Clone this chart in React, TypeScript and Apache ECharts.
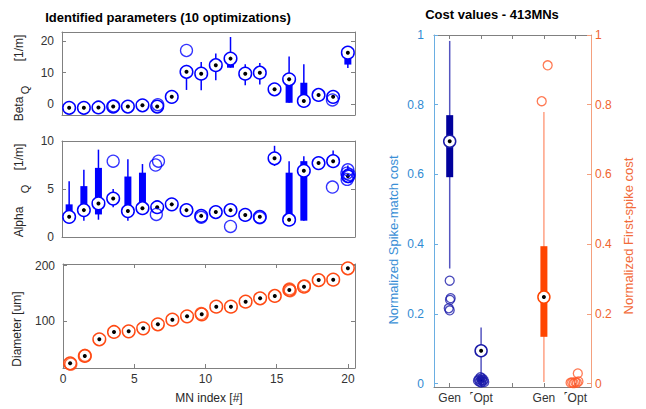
import React, { useEffect, useRef } from 'react';
import * as echarts from 'echarts';

const FONT = 'Liberation Sans, Arial, Helvetica, sans-serif';

// MN positions along x (20 motoneurons)
const positions = [0.5, 1.53, 2.55, 3.58, 4.61, 5.63, 6.66, 7.68, 8.71, 9.74, 10.76, 11.79, 12.82, 13.84, 14.87, 15.89, 16.92, 17.95, 18.97, 20.0];

// Beta_Q [1/m]
const betaMedian = [-1.2, -1.2, -1.1, -0.8, -0.8, -0.4, -0.8, 2.3, 10.3, 9.7, 12.4, 14.5, 9.7, 10.0, 4.7, 7.9, 1.0, 2.9, 2.3, 16.4];
const betaQ1 = [null, null, null, null, null, null, null, null, null, 8.2, null, 11.6, null, null, null, 0.4, 0.4, null, null, 12.6];
const betaQ3 = [null, null, null, null, null, null, null, null, null, 9.7, null, 13.5, null, null, null, 6.6, 6.8, null, null, 16.4];
const betaWLo = [null, null, null, null, null, null, null, null, 4.5, 4.4, 7.6, 11.6, 6.0, 6.2, null, 0.4, 0.4, null, null, 11.5];
const betaWHi = [null, null, null, null, null, null, null, null, 12.5, 13.4, 16.1, 21.4, 12.7, 13.1, null, 15.2, 12.7, null, null, 18.2];
const betaOutliers = [[3.62, -0.6], [6.7, -0.2], [8.71, 17.1], [18.92, 1.3]];

// Alpha_Q [1/m]
const alphaMedian = [2.1, 2.8, 3.5, 4.0, 2.7, 3.0, 3.1, 3.4, 2.8, 2.2, 2.6, 2.8, 2.3, 2.1, 8.2, 1.8, 6.9, 7.7, 7.9, 6.35];
const alphaQ1 = [2.0, 2.8, 2.35, null, 2.7, 3.0, null, null, null, null, null, null, null, null, null, 1.76, 1.7, null, null, null];
const alphaQ3 = [3.4, 5.3, 7.2, null, 6.3, 6.7, null, null, null, null, null, null, null, null, null, 6.7, 7.9, null, null, null];
const alphaWLo = [2.0, 1.7, 1.8, 3.1, 1.7, 3.0, null, null, null, null, null, null, null, null, 7.4, 1.76, 1.7, 7.7, 7.9, 6.3];
const alphaWHi = [5.8, 7.0, 9.1, 5.0, 8.1, 7.6, null, null, null, null, null, null, null, null, 9.5, 7.9, 8.4, 8.3, 9.0, 7.45];
const alphaOutliers = [[3.58, 7.9], [6.55, 7.5], [6.75, 7.9], [6.6, 2.35], [9.74, 2.05], [11.79, 1.1], [13.84, 2.0], [18.92, 5.2], [20.0, 7.0], [19.93, 6.65], [20.06, 6.3], [19.95, 6.0], [20.1, 6.5]];

// Diameter [um]
const diameter = [23.5, 36.7, 66.9, 80.1, 81.3, 86.7, 94.0, 102.4, 108.4, 112.0, 125.9, 125.9, 134.9, 141.0, 145.2, 156.0, 162.0, 174.0, 174.7, 195.2];
const diameterOutliers = [[0.55, 22.0], [1.55, 37.8], [9.7, 113.5], [15.9, 158.0], [15.95, 154.5], [16.95, 163.5]];

// Cost values - 413 MNs
const costTickLabels = ['', 'Gen', '\u02F9Opt', '', 'Gen', '\u02F9Opt'];
const costPos = [1, 2];
const matchMedian = [0.695, 0.094];
const matchQ1 = [0.592, 0.004];
const matchQ3 = [0.77, 0.02];
const matchWLo = [0.33, 0.0];
const matchWHi = [0.983, 0.161];
const matchOutliers = [[1.0, 0.295], [1.03, 0.245], [1.01, 0.24], [0.97, 0.216], [1.0, 0.21], [1.93, 0.012], [1.98, 0.018], [2.03, 0.015], [2.08, 0.01], [1.95, 0.005], [2.0, 0.003], [2.05, 0.006], [2.1, 0.004], [1.9, 0.008], [2.02, 0.01]];
const firstPos = [4];
const firstMedian = [0.248];
const firstQ1 = [0.134];
const firstQ3 = [0.394];
const firstWLo = [0.004];
const firstWHi = [0.779];
const firstOutliers = [[3.93, 0.81], [4.12, 0.913], [4.85, 0.002], [4.9, 0.003], [4.95, 0.001], [5.0, 0.004], [5.05, 0.002], [5.1, 0.006], [5.08, 0.029]];

type Cfg = { whisker: string; wlw: number; box: string; bw: number; circle: string; clw: number; r: number; dot: number };

function boxRender(xs: number[], med: (number | null)[], q1: (number | null)[], q3: (number | null)[], wlo: (number | null)[], whi: (number | null)[], cfg: Cfg) {
  return (params: any, api: any) => {
    const i = params.dataIndex;
    const x = xs[i];
    const children: any[] = [];
    if (wlo[i] != null && whi[i] != null) {
      const a = api.coord([x, wlo[i]]);
      const b = api.coord([x, whi[i]]);
      children.push({ type: 'line', shape: { x1: a[0], y1: a[1], x2: b[0], y2: b[1] }, style: { stroke: cfg.whisker, lineWidth: cfg.wlw } });
    }
    if (q1[i] != null && q3[i] != null) {
      const a = api.coord([x, q1[i]]);
      const b = api.coord([x, q3[i]]);
      children.push({ type: 'rect', shape: { x: a[0] - cfg.bw / 2, y: b[1], width: cfg.bw, height: a[1] - b[1] }, style: { fill: cfg.box } });
    }
    if (med[i] != null) {
      const m = api.coord([x, med[i]]);
      children.push({ type: 'circle', shape: { cx: m[0], cy: m[1], r: cfg.r }, style: { fill: '#ffffff', stroke: cfg.circle, lineWidth: cfg.clw } });
      children.push({ type: 'circle', shape: { cx: m[0], cy: m[1], r: cfg.dot }, style: { fill: '#000000' } });
    }
    return { type: 'group', children };
  };
}

const GRAY = '#808080';
const TXT = '#333333';

function xAx(grid: number, min: number, max: number, pos: 'top' | 'bottom', ticks: number[] | null, labels: boolean, color = GRAY, fmt?: (v: number) => string): any {
  return {
    gridIndex: grid, type: 'value', min, max, position: pos,
    axisLine: { show: true, onZero: false, lineStyle: { color, width: 1 } },
    axisTick: ticks ? { show: true, inside: true, length: 4, customValues: ticks, lineStyle: { color } } : { show: false },
    axisLabel: labels && ticks ? { show: true, customValues: ticks, color: TXT, fontSize: 12, fontFamily: FONT, margin: 5, formatter: fmt } : { show: false },
    splitLine: { show: false },
  };
}

function yAx(grid: number, min: number, max: number, pos: 'left' | 'right', ticks: number[], labels: boolean, lineColor = GRAY, labelColor = TXT, margin = 8, fmt?: (v: number) => string): any {
  return {
    gridIndex: grid, type: 'value', min, max, position: pos,
    axisLine: { show: true, onZero: false, lineStyle: { color: lineColor, width: 1 } },
    axisTick: { show: true, inside: true, length: 4, customValues: ticks, lineStyle: { color: lineColor } },
    axisLabel: labels ? { show: true, customValues: ticks, color: labelColor, fontSize: 12, fontFamily: FONT, margin, formatter: fmt } : { show: false },
    splitLine: { show: false },
  };
}

function vText(text: string, x: number, y: number, size: number, fill: string) {
  return { type: 'text', x, y, rotation: Math.PI / 2, style: { text, fill, font: `${size}px ${FONT}`, align: 'center', verticalAlign: 'middle' } };
}

const BLUE = '#0000ff';
const leftCfg: Cfg = { whisker: BLUE, wlw: 1.5, box: BLUE, bw: 7, circle: BLUE, clw: 1.5, r: 6.3, dot: 2 };
const RED = '#ff4a14';
const diamCfg: Cfg = { whisker: RED, wlw: 1.5, box: RED, bw: 7, circle: RED, clw: 1.5, r: 6.3, dot: 2 };
const matchCfg: Cfg = { whisker: '#5555c0', wlw: 1.5, box: '#00009c', bw: 7, circle: '#1a1aa8', clw: 1.5, r: 6, dot: 2 };
const firstCfg: Cfg = { whisker: '#ffa184', wlw: 1.5, box: '#ff4500', bw: 7, circle: '#ff4500', clw: 1.5, r: 6, dot: 2 };

const fmtCost = (v: number) => (Math.abs(v) < 1e-9 ? '0' : Math.abs(v - 1) < 1e-9 ? '1' : String(Math.round(v * 10) / 10));
const fmtCat = (v: number) => costTickLabels[Math.round(v)] ?? '';

export default function App() {
  const ref = useRef<HTMLDivElement>(null);
  useEffect(() => {
    if (!ref.current) return;
    const chart = echarts.init(ref.current, null, { renderer: 'svg' });
    const outlierSeries = (xi: number, yi: number, data: number[][], color: string, size: number) => ({
      type: 'scatter', xAxisIndex: xi, yAxisIndex: yi, data, symbol: 'circle', symbolSize: size,
      itemStyle: { color: 'rgba(0,0,0,0)', borderColor: color, borderWidth: 1.3 }, silent: true,
    });
    const option: any = {
      animation: false,
      backgroundColor: '#ffffff',
      textStyle: { fontFamily: FONT },
      grid: [
        { left: 62, top: 32, width: 293, height: 83 },
        { left: 62, top: 141, width: 293, height: 96 },
        { left: 63, top: 264, width: 292, height: 104 },
        { left: 434, top: 35, width: 157, height: 352 },
      ],
      xAxis: [
        xAx(0, 0, 20.5, 'bottom', null, false),
        xAx(0, 0, 20.5, 'top', null, false),
        xAx(1, 0, 20.5, 'bottom', null, false),
        xAx(1, 0, 20.5, 'top', null, false),
        xAx(2, 0, 20.5, 'bottom', [0, 5, 10, 15, 20], true),
        xAx(2, 0, 20.5, 'top', [0, 5, 10, 15, 20], false),
        xAx(3, 0.5, 5.5, 'bottom', [1, 2, 3, 4, 5], true, GRAY, fmtCat),
        xAx(3, 0.5, 5.5, 'top', [1, 2, 3, 4, 5], false),
      ],
      yAxis: [
        yAx(0, -3.5, 23, 'left', [0, 10, 20], true),
        yAx(0, -3.5, 23, 'right', [0, 10, 20], false),
        yAx(1, 0, 10, 'left', [0, 5, 10], true),
        yAx(1, 0, 10, 'right', [0, 5, 10], false),
        yAx(2, 15, 203, 'left', [100, 200], true),
        yAx(2, 15, 203, 'right', [100, 200], false),
        yAx(3, -0.01, 1, 'left', [0, 0.2, 0.4, 0.6, 0.8, 1], true, '#6aaee2', '#2f8ad2', 10, fmtCost),
        yAx(3, -0.01, 1, 'right', [0, 0.2, 0.4, 0.6, 0.8, 1], true, '#f4a07e', '#f0642e', 4, fmtCost),
      ],
      series: [
        {
          type: 'custom', xAxisIndex: 0, yAxisIndex: 0, clip: false,
          data: positions.map((x, i) => [x, betaMedian[i]]),
          renderItem: boxRender(positions, betaMedian, betaQ1, betaQ3, betaWLo, betaWHi, leftCfg),
        },
        outlierSeries(0, 0, betaOutliers, BLUE, 12),
        {
          type: 'custom', xAxisIndex: 2, yAxisIndex: 2, clip: false,
          data: positions.map((x, i) => [x, alphaMedian[i]]),
          renderItem: boxRender(positions, alphaMedian, alphaQ1, alphaQ3, alphaWLo, alphaWHi, leftCfg),
        },
        outlierSeries(2, 2, alphaOutliers, BLUE, 12),
        outlierSeries(4, 4, diameterOutliers, RED, 12),
        {
          type: 'custom', xAxisIndex: 4, yAxisIndex: 4, clip: false,
          data: positions.map((x, i) => [x, diameter[i]]),
          renderItem: boxRender(positions, diameter, diameter.map(() => null), diameter.map(() => null), diameter.map(() => null), diameter.map(() => null), diamCfg),
        },
        {
          type: 'custom', xAxisIndex: 6, yAxisIndex: 6, clip: false,
          data: costPos.map((x, i) => [x, matchMedian[i]]),
          renderItem: boxRender(costPos, matchMedian, matchQ1, matchQ3, matchWLo, matchWHi, matchCfg),
        },
        outlierSeries(6, 6, matchOutliers, '#1c1caa', 9),
        {
          type: 'custom', xAxisIndex: 6, yAxisIndex: 7, clip: false,
          data: firstPos.map((x, i) => [x, firstMedian[i]]),
          renderItem: boxRender(firstPos, firstMedian, firstQ1, firstQ3, firstWLo, firstWHi, firstCfg),
        },
        outlierSeries(6, 7, firstOutliers, '#ff5a2a', 9),
      ],
      graphic: [
        { type: 'text', x: 168, y: 17, style: { text: 'Identified parameters (10 optimizations)', fill: '#000', font: `bold 13px ${FONT}`, align: 'center', verticalAlign: 'middle' } },
        { type: 'text', x: 492, y: 14, style: { text: 'Cost values - 413MNs', fill: '#000', font: `bold 13px ${FONT}`, align: 'center', verticalAlign: 'middle' } },
        { type: 'text', x: 0, y: 0, rotation: 0, style: { text: '' } },
        { ...vText('Beta', 19, 109, 12, '#262626'), rotation: Math.PI / 2 },
        vText('Q', 25, 90, 11, '#262626'),
        vText('[1/m]', 19, 48, 12, '#262626'),
        vText('Alpha', 19, 222, 12, '#262626'),
        vText('Q', 25, 189, 11, '#262626'),
        vText('[1/m]', 19, 157, 12, '#262626'),
        vText('Diameter [um]', 17, 329, 12, '#262626'),
        { type: 'text', x: 209, y: 398, style: { text: 'MN index [#]', fill: '#262626', font: `12px ${FONT}`, align: 'center', verticalAlign: 'middle' } },
        vText('Normalized Spike-match cost', 393, 240, 13, '#3a8fd6'),
        vText('Normalized First-spike cost', 628, 236, 13, '#f26b3a'),
      ],
    };
    chart.setOption(option);
    return () => chart.dispose();
  }, []);
  return <div ref={ref} style={{ position: 'fixed', left: 0, top: 0, width: 646, height: 409 }} />;
}
